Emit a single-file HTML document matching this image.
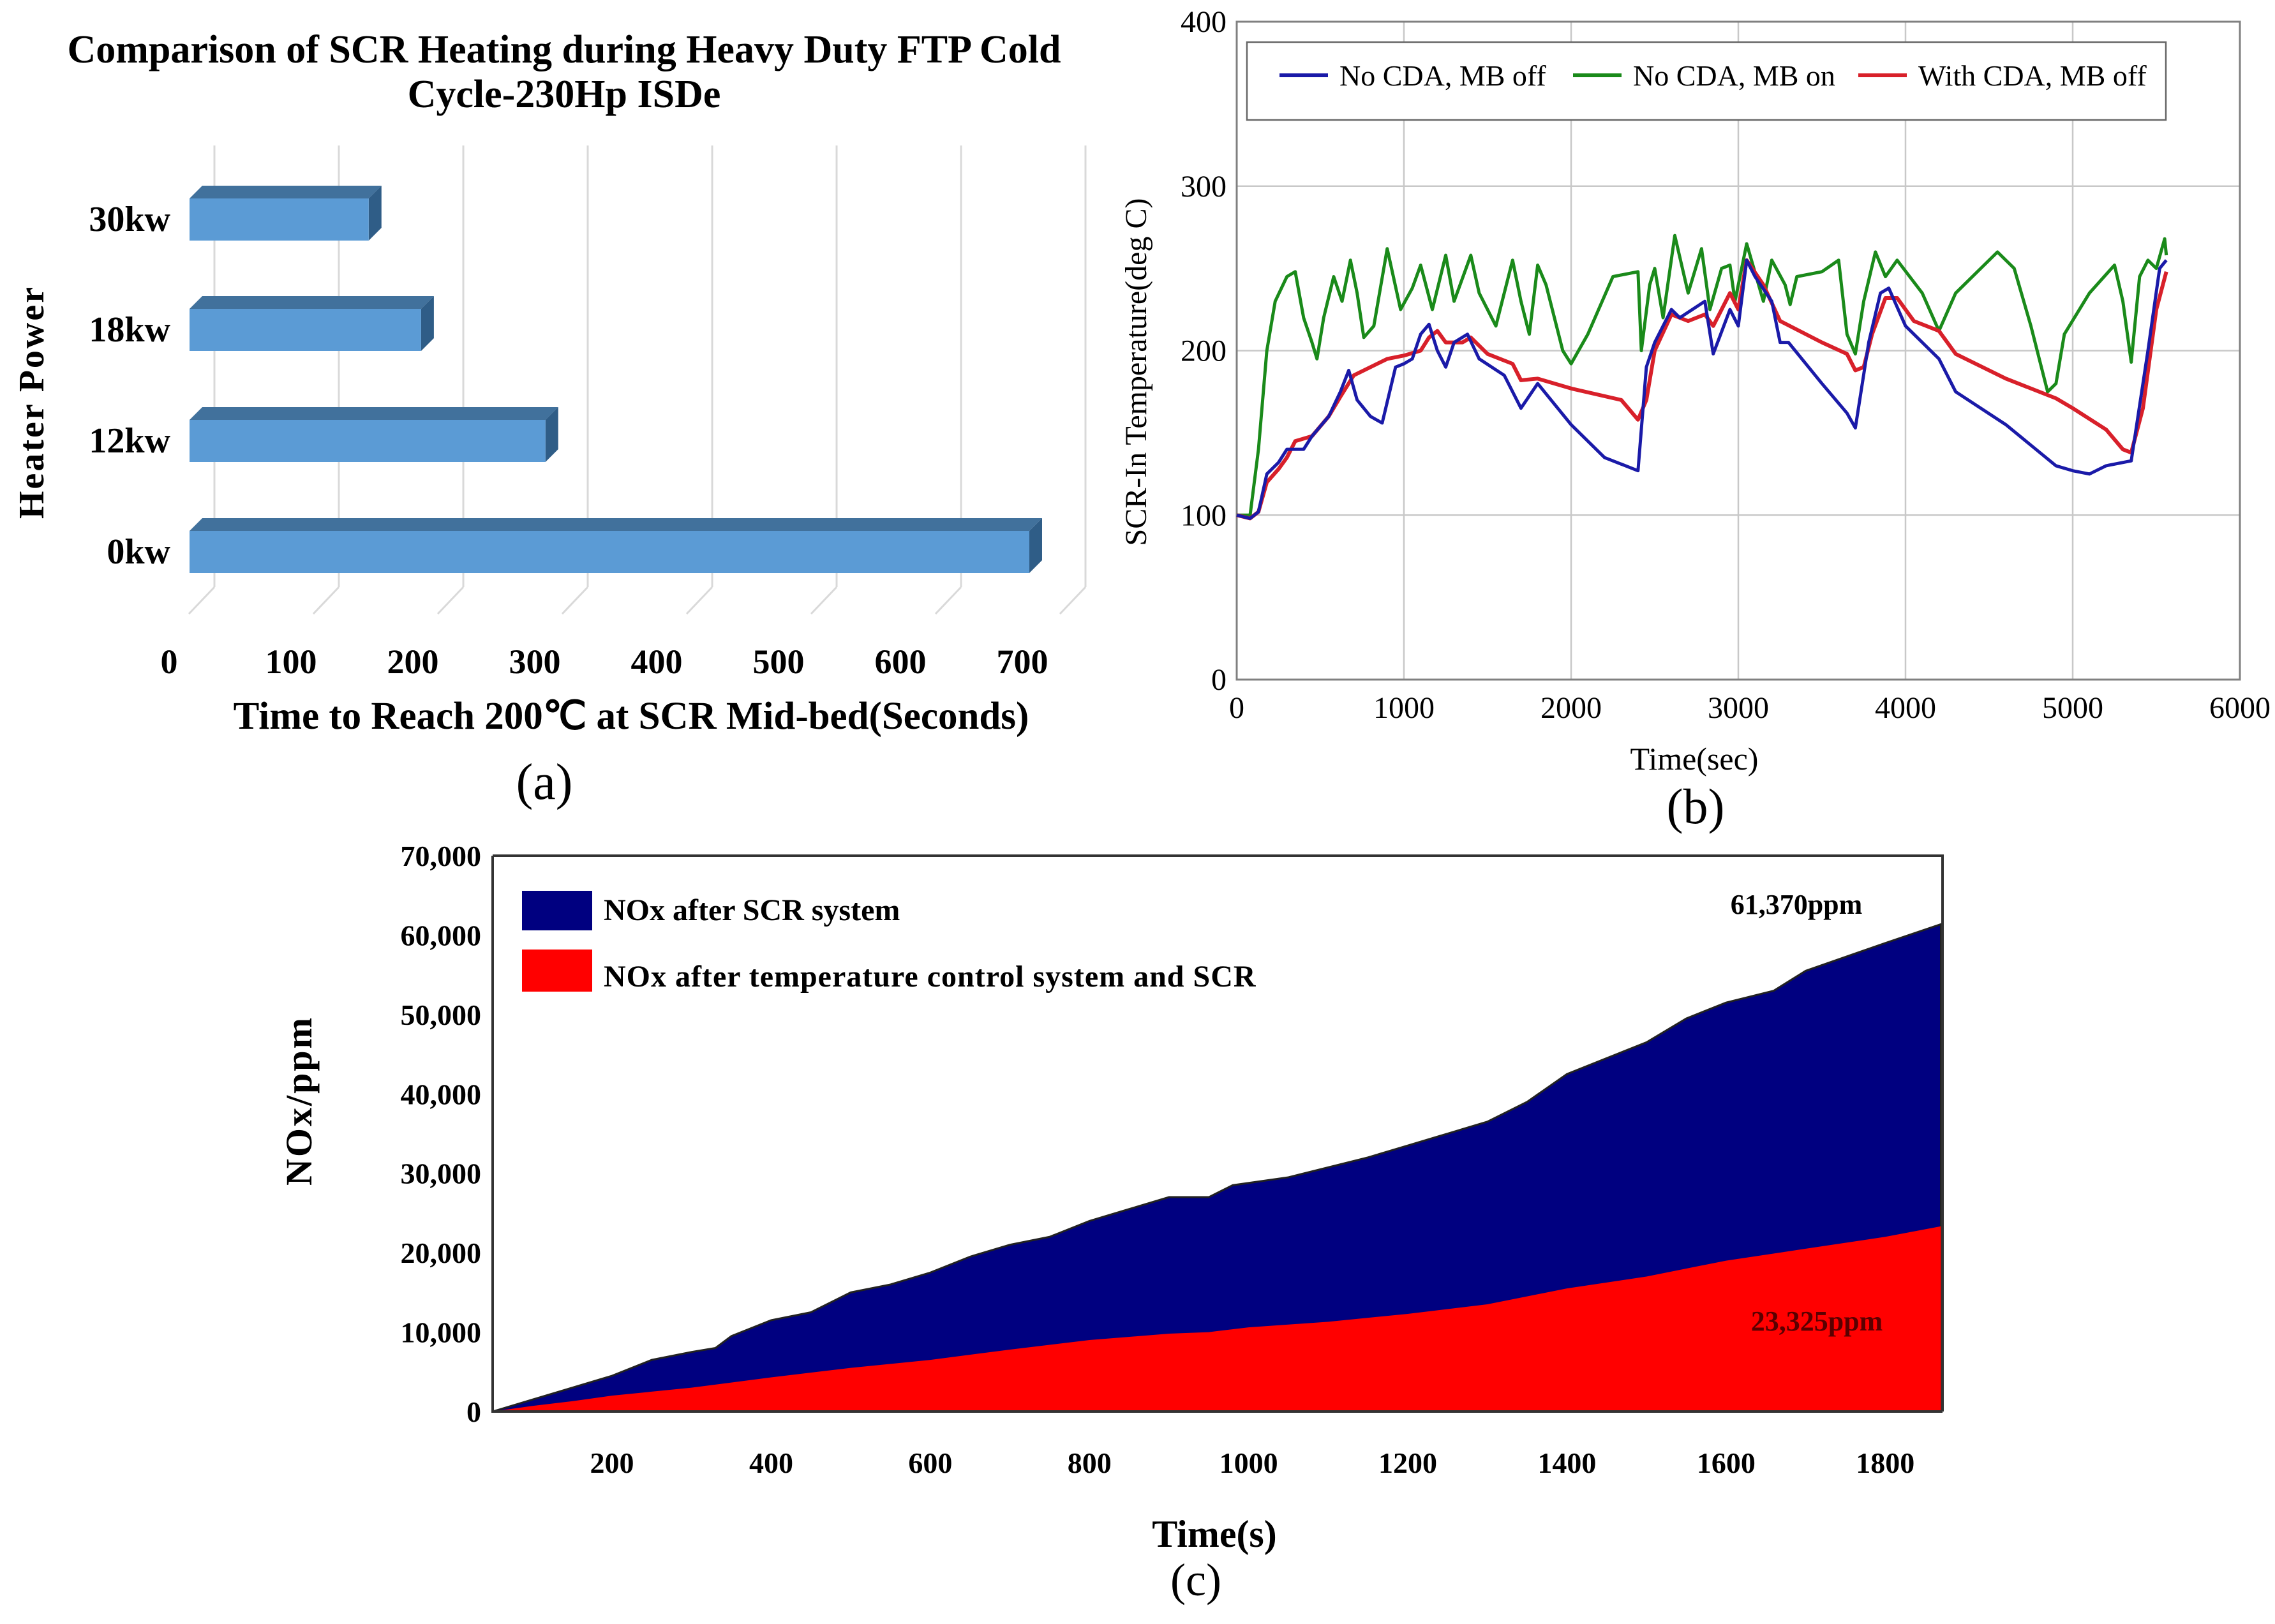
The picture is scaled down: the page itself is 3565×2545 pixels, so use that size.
<!DOCTYPE html>
<html><head><meta charset="utf-8"><style>
html,body{margin:0;padding:0;background:#fff;}
svg{display:block;}
</style></head><body>
<svg id="root" width="3565" height="2545" viewBox="0 0 3565 2545" xmlns="http://www.w3.org/2000/svg">
<g id="ga"></g>
<g id="gb"></g>
<g id="gc"></g>
</svg>
<script>
// ---------- Chart (a) data ----------
const aCategories = ["30kw","18kw","12kw","0kw"];
const aValues = [147, 190, 292, 689];
const aTicks = [0,100,200,300,400,500,600,700];
// ---------- Chart (b) data ----------
const bXTicks = [0,1000,2000,3000,4000,5000,6000];
const bYTicks = [0,100,200,300,400];
const bSeriesNames = ["No CDA, MB off","No CDA, MB on","With CDA, MB off"];
const bBlue = [[0,100],[80,98],[130,102],[180,125],[250,132],[300,140],[400,140],[450,148],[550,160],[620,175],[670,188],[720,170],[800,160],[870,156],[950,190],[1000,192],[1050,195],[1100,210],[1150,216],[1200,200],[1250,190],[1300,205],[1380,210],[1450,195],[1600,185],[1700,165],[1800,180],[2000,155],[2200,135],[2400,127],[2450,190],[2500,205],[2600,225],[2650,220],[2800,230],[2850,198],[2950,225],[3000,215],[3050,255],[3100,245],[3200,230],[3250,205],[3300,205],[3500,180],[3650,162],[3700,153],[3780,205],[3850,235],[3900,238],[4000,215],[4200,195],[4300,175],[4600,155],[4900,130],[5000,127],[5100,125],[5200,130],[5350,133],[5450,200],[5520,250],[5560,255]];
const bGreen = [[0,100],[80,100],[130,140],[180,200],[230,230],[300,245],[350,248],[400,220],[450,205],[480,195],[520,220],[580,245],[630,230],[680,255],[720,235],[760,208],[820,215],[900,262],[980,225],[1050,238],[1100,252],[1170,225],[1250,258],[1300,230],[1400,258],[1450,235],[1550,215],[1650,255],[1700,230],[1750,210],[1800,252],[1850,240],[1950,200],[2000,192],[2100,210],[2250,245],[2400,248],[2420,200],[2470,240],[2500,250],[2550,220],[2620,270],[2700,235],[2780,262],[2830,225],[2900,250],[2950,252],[2980,230],[3050,265],[3150,230],[3200,255],[3280,240],[3310,228],[3350,245],[3500,248],[3600,255],[3650,210],[3700,198],[3750,230],[3820,260],[3880,245],[3950,255],[4100,235],[4200,212],[4300,235],[4450,250],[4550,260],[4650,250],[4750,215],[4850,175],[4900,180],[4950,210],[5100,235],[5250,252],[5300,230],[5350,193],[5400,245],[5450,255],[5500,250],[5550,268],[5560,258]];
const bRed = [[0,100],[80,98],[130,102],[180,120],[250,128],[300,135],[350,145],[450,148],[550,160],[620,172],[700,185],[800,190],[900,195],[1000,197],[1100,200],[1150,208],[1200,212],[1250,205],[1350,205],[1400,208],[1500,198],[1650,192],[1700,182],[1800,183],[2000,177],[2300,170],[2400,158],[2450,170],[2500,200],[2600,222],[2700,218],[2800,222],[2850,215],[2950,235],[3000,225],[3050,255],[3150,240],[3250,218],[3500,205],[3650,198],[3700,188],[3750,190],[3800,210],[3880,232],[3950,232],[4050,218],[4200,212],[4300,198],[4600,183],[4900,171],[5000,165],[5200,152],[5300,140],[5350,138],[5420,165],[5500,225],[5560,248]];
// ---------- Chart (c) data ----------
const cXTicks = [200,400,600,800,1000,1200,1400,1600,1800];
const cYTicks = [0,10000,20000,30000,40000,50000,60000,70000];
const cYTickLabels = ["0","10,000","20,000","30,000","40,000","50,000","60,000","70,000"];
const cBlue = [[50,0],[100,1500],[150,3000],[200,4500],[250,6500],[300,7500],[330,8000],[350,9500],[400,11500],[450,12500],[500,15000],[550,16000],[600,17500],[650,19500],[700,21000],[750,22000],[800,24000],[850,25500],[900,27000],[950,27000],[980,28500],[1050,29500],[1150,32000],[1200,33500],[1250,35000],[1300,36500],[1350,39000],[1400,42500],[1450,44500],[1500,46500],[1550,49500],[1600,51500],[1660,53000],[1700,55500],[1800,59000],[1870,61370]];
const cRed = [[50,0],[100,700],[150,1300],[200,2000],[300,3000],[400,4300],[500,5500],[600,6500],[700,7800],[800,9000],[900,9800],[950,10000],[1000,10600],[1100,11300],[1200,12300],[1300,13500],[1400,15500],[1500,17000],[1600,19000],[1700,20500],[1800,22000],[1870,23325]];
const cLabels = ["61,370ppm","23,325ppm"];

const NS="http://www.w3.org/2000/svg";
function mk(parent,tag,attrs,text){const e=document.createElementNS(NS,tag);for(const k in attrs)e.setAttribute(k,attrs[k]);if(text!==undefined)e.textContent=text;parent.appendChild(e);return e;}
const SERIF='"Liberation Serif", serif';

// ===== Chart A =====
(function(){
const g=document.getElementById('ga');
const xa=v=>297+v*1.91, gx=v=>336+v*1.95;
const d=20;
let t=mk(g,'text',{x:884,y:98,'text-anchor':'middle','font-family':SERIF,'font-weight':'bold','font-size':62},"Comparison of SCR Heating during Heavy Duty FTP Cold");


t=mk(g,'text',{x:884,y:168,'text-anchor':'middle','font-family':SERIF,'font-weight':'bold','font-size':62},"Cycle-230Hp ISDe");


aTicks.forEach((v,i)=>{
 const l=mk(g,'line',{x1:gx(v),y1:228,x2:gx(v),y2:920,stroke:'#d9d9d9','stroke-width':3});
 
 
 const f=mk(g,'line',{x1:gx(v),y1:920,x2:gx(v)-40,y2:962,stroke:'#d9d9d9','stroke-width':3});
 
 
 const tl=mk(g,'text',{x:265+v*1.91,y:1055,'text-anchor':'middle','font-family':SERIF,'font-weight':'bold','font-size':54},String(v));
 
 
});
const ys=[311,484,658,832], h=66;
aCategories.forEach((c,i)=>{
 const y=ys[i], x0=xa(0), x1=xa(aValues[i]);
 const top=mk(g,'polygon',{points:`${x0},${y} ${x0+d},${y-d} ${x1+d},${y-d} ${x1},${y}`,fill:'#41719c'});
 
 
 const side=mk(g,'polygon',{points:`${x1},${y} ${x1+d},${y-d} ${x1+d},${y+h-d} ${x1},${y+h}`,fill:'#2f5d87'});
 
 
 const r=mk(g,'rect',{x:x0,y:y,width:x1-x0,height:h,fill:'#5b9bd5'});
 
 
 const lb=mk(g,'text',{x:267,y:y+h/2+18,'text-anchor':'end','font-family':SERIF,'font-weight':'bold','font-size':56},c);
 
 
});
t=mk(g,'text',{x:0,y:0,transform:'translate(68,630) rotate(-90)','text-anchor':'middle','font-family':SERIF,'font-weight':'bold','font-size':56,'letter-spacing':3},"Heater Power");


t=mk(g,'text',{x:989,y:1142,'text-anchor':'middle','font-family':SERIF,'font-weight':'bold','font-size':61},"Time to Reach 200℃ at SCR Mid-bed(Seconds)");


t=mk(g,'text',{x:853,y:1252,'text-anchor':'middle','font-family':SERIF,'font-size':80},"(a)");


})();

// ===== Chart B =====
(function(){
const g=document.getElementById('gb');
const L=1938,R=3510,T=34,B=1065;
const xb=v=>L+(v/6000)*(R-L), yb=v=>B-(v/400)*(B-T);
bYTicks.forEach(v=>{
 const l=mk(g,'line',{x1:L,y1:yb(v),x2:R,y2:yb(v),stroke:'#c8c8c8','stroke-width':2.5});
 
 
 const t=mk(g,'text',{x:L-16,y:yb(v)+16,'text-anchor':'end','font-family':SERIF,'font-size':48},String(v));
 
 
});
bXTicks.forEach(v=>{
 const l=mk(g,'line',{x1:xb(v),y1:T,x2:xb(v),y2:B,stroke:'#c8c8c8','stroke-width':2.5});
 
 
 const t=mk(g,'text',{x:xb(v),y:B+60,'text-anchor':'middle','font-family':SERIF,'font-size':48},String(v));
 
 
});
const fr=mk(g,'rect',{x:L,y:T,width:R-L,height:B-T,fill:'none',stroke:'#808080','stroke-width':3});


const series=[[bGreen,'#1a8a1a','green'],[bRed,'#d8202a','red'],[bBlue,'#1a1aa8','blue']];
series.forEach(([data,col,nm])=>{
 const p=mk(g,'polyline',{points:data.map(d=>xb(d[0])+','+yb(d[1])).join(' '),fill:'none',stroke:col,'stroke-width':nm==='red'?6:5,'stroke-linejoin':'round'});
 
 
});
const lg=mk(g,'rect',{x:1954,y:66,width:1440,height:122,fill:'#fff',stroke:'#666','stroke-width':2.5});


const lx=[2005,2465,2912], cols=['#1a1aa8','#1a8a1a','#d8202a'];
bSeriesNames.forEach((n,i)=>{
 const l=mk(g,'line',{x1:lx[i],y1:118,x2:lx[i]+76,y2:118,stroke:cols[i],'stroke-width':6});
 
 
 const t=mk(g,'text',{x:lx[i]+94,y:134,'font-family':SERIF,'font-size':46},n);
 
 
});
let t=mk(g,'text',{x:0,y:0,transform:'translate(1796,583) rotate(-90)','text-anchor':'middle','font-family':SERIF,'font-size':48},"SCR-In Temperature(deg C)");


t=mk(g,'text',{x:2655,y:1206,'text-anchor':'middle','font-family':SERIF,'font-size':50},"Time(sec)");


t=mk(g,'text',{x:2657,y:1290,'text-anchor':'middle','font-family':SERIF,'font-size':78},"(b)");


})();

// ===== Chart C =====
(function(){
const g=document.getElementById('gc');
const L=772,R=3044,T=1341,B=2212;
const xc=v=>L+((v-50)/(1872-50))*(R-L), yc=v=>B-(v/70000)*(B-T);
const area=(d)=>`M${xc(d[0][0])},${B} `+d.map(p=>`L${xc(p[0])},${yc(p[1])}`).join(' ')+` L${xc(d[d.length-1][0])},${B} Z`;
const pb=mk(g,'path',{d:area(cBlue),fill:'#000080',stroke:'#222','stroke-width':3});


const pr=mk(g,'path',{d:area(cRed),fill:'#ff0000'});


const ax=mk(g,'path',{d:`M${L},${T} L${L},${B} L${R},${B} M${L},${T} L${R},${T} L${R},${B}`,fill:'none',stroke:'#333','stroke-width':4});


cYTicks.forEach((v,i)=>{
 const t=mk(g,'text',{x:L-18,y:yc(v)+16,'text-anchor':'end','font-family':SERIF,'font-weight':'bold','font-size':46},cYTickLabels[i]);
 
 
});
cXTicks.forEach(v=>{
 const t=mk(g,'text',{x:xc(v)+0,y:2308,'text-anchor':'middle','font-family':SERIF,'font-weight':'bold','font-size':46},String(v));
 
 
});
let r=mk(g,'rect',{x:818,y:1396,width:110,height:62,fill:'#000080'});


r=mk(g,'rect',{x:818,y:1488,width:110,height:66,fill:'#ff0000'});


let t=mk(g,'text',{x:946,y:1442,'font-family':SERIF,'font-weight':'bold','font-size':48},"NOx after SCR system");


t=mk(g,'text',{x:946,y:1546,'font-family':SERIF,'font-weight':'bold','font-size':48,'letter-spacing':1},"NOx after temperature control system and SCR");


t=mk(g,'text',{x:2815,y:1432,'text-anchor':'middle','font-family':SERIF,'font-weight':'bold','font-size':44},cLabels[0]);


t=mk(g,'text',{x:2847,y:2085,'text-anchor':'middle','font-family':SERIF,'font-weight':'bold','font-size':44,fill:'#5a0000'},cLabels[1]);


t=mk(g,'text',{x:0,y:0,transform:'translate(488,1725) rotate(-90)','text-anchor':'middle','font-family':SERIF,'font-weight':'bold','font-size':58,'letter-spacing':3},"NOx/ppm");


t=mk(g,'text',{x:1903,y:2424,'text-anchor':'middle','font-family':SERIF,'font-weight':'bold','font-size':60},"Time(s)");


t=mk(g,'text',{x:1874,y:2500,'text-anchor':'middle','font-family':SERIF,'font-size':72},"(c)");


})();
</script>
</body></html>
